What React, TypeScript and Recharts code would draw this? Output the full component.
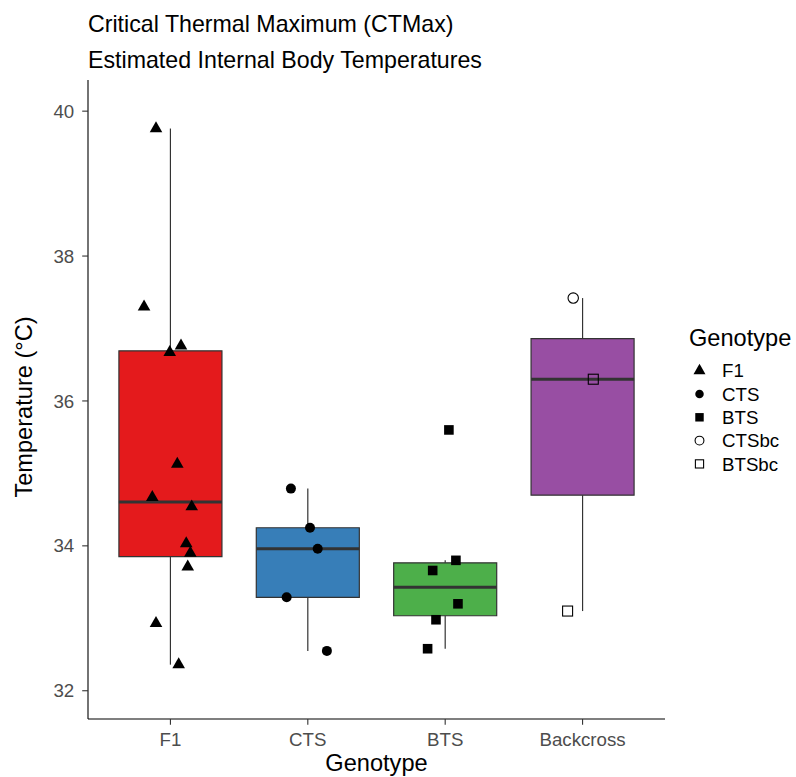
import React from "react"
import { ComposedChart, XAxis, YAxis, Scatter, ReferenceArea, ReferenceLine } from "recharts"

const genotypes = ["F1", "CTS", "BTS", "Backcross"]
const boxColors = ["#E41A1C", "#377EB8", "#4DAF4A", "#984EA3"]

// x = jittered position on the genotype axis (1..4), temp = body temperature in °C
const f1Points = [
  { x: 0.895, temp: 39.76 },
  { x: 0.808, temp: 37.3 },
  { x: 1.077, temp: 36.76 },
  { x: 0.995, temp: 36.67 },
  { x: 1.05, temp: 35.13 },
  { x: 0.868, temp: 34.67 },
  { x: 1.155, temp: 34.54 },
  { x: 1.115, temp: 34.03 },
  { x: 1.145, temp: 33.9 },
  { x: 1.126, temp: 33.71 },
  { x: 0.895, temp: 32.93 },
  { x: 1.06, temp: 32.36 },
]
const ctsPoints = [
  { x: 1.877, temp: 34.79 },
  { x: 2.016, temp: 34.25 },
  { x: 2.072, temp: 33.96 },
  { x: 1.846, temp: 33.29 },
  { x: 2.139, temp: 32.55 },
]
const btsPoints = [
  { x: 3.027, temp: 35.6 },
  { x: 3.078, temp: 33.8 },
  { x: 2.909, temp: 33.66 },
  { x: 3.093, temp: 33.2 },
  { x: 2.933, temp: 32.98 },
  { x: 2.872, temp: 32.58 },
]
const ctsbcPoints = [{ x: 3.932, temp: 37.42 }]
const btsbcPoints = [
  { x: 4.078, temp: 36.3 },
  { x: 3.891, temp: 33.1 },
]

const yTicks = [32, 34, 36, 38, 40]

const groups = [f1Points, ctsPoints, btsPoints, [...ctsbcPoints, ...btsbcPoints]]

const font = "'Liberation Sans', Arial, Helvetica, sans-serif"
const dark = "#333333"

function quantile(sorted: number[], p: number) {
  const h = (sorted.length - 1) * p
  const lo = Math.floor(h)
  const hi = Math.ceil(h)
  return sorted[lo] + (h - lo) * (sorted[hi] - sorted[lo])
}

// Tukey box: quartiles + whiskers reaching the furthest point within 1.5 IQR
function boxStats(points: { temp: number }[]) {
  const v = points.map((p) => p.temp).sort((a, b) => a - b)
  const q1 = quantile(v, 0.25)
  const med = quantile(v, 0.5)
  const q3 = quantile(v, 0.75)
  const iqr = q3 - q1
  const lo = Math.min(...v.filter((t) => t >= q1 - 1.5 * iqr))
  const hi = Math.max(...v.filter((t) => t <= q3 + 1.5 * iqr))
  return { q1, med, q3, lo, hi }
}

const boxes = groups.map(boxStats)

// point glyphs (R pch 17, 16, 15, 1, 0)
const Triangle = ({ cx, cy, s = 1 }: any) => (
  <polygon
    points={`${cx},${cy - 7.3 * s} ${cx + 6.3 * s},${cy + 3.65 * s} ${cx - 6.3 * s},${cy + 3.65 * s}`}
    fill="#000"
  />
)
const Dot = ({ cx, cy, s = 1 }: any) => <circle cx={cx} cy={cy} r={5 * s} fill="#000" />
const Square = ({ cx, cy, s = 1 }: any) => (
  <rect x={cx - 4.8 * s} y={cy - 4.8 * s} width={9.6 * s} height={9.6 * s} fill="#000" />
)
const OpenDot = ({ cx, cy, s = 1 }: any) => (
  <circle cx={cx} cy={cy} r={5.2 * s} fill="none" stroke="#000" strokeWidth={1.1} />
)
const OpenSquare = ({ cx, cy, s = 1 }: any) => (
  <rect x={cx - 5 * s} y={cy - 5 * s} width={10 * s} height={10 * s} fill="none" stroke="#000" strokeWidth={1.1} />
)

const series = [
  { name: "F1", data: f1Points, Shape: Triangle, legendScale: 0.95 },
  { name: "CTS", data: ctsPoints, Shape: Dot, legendScale: 0.85 },
  { name: "BTS", data: btsPoints, Shape: Square, legendScale: 0.88 },
  { name: "CTSbc", data: ctsbcPoints, Shape: OpenDot, legendScale: 0.85 },
  { name: "BTSbc", data: btsbcPoints, Shape: OpenSquare, legendScale: 0.82 },
]

export default function App() {
  return (
    <div style={{ position: "absolute", left: 0, top: 0, width: 796, height: 777, background: "#fff" }}>
      <ComposedChart
        width={796}
        height={777}
        margin={{ top: 80, right: 131, bottom: 0, left: 0 }}
        style={{ fontFamily: font }}
      >
        <XAxis
          type="number"
          dataKey="x"
          domain={[0.4, 4.6]}
          ticks={[1, 2, 3, 4]}
          tickFormatter={(i: number) => genotypes[i - 1]}
          allowDataOverflow
          height={58}
          stroke="#000"
          strokeWidth={1.1}
          tickSize={5.8}
          tickMargin={8}
          tickLine={{ stroke: dark }}
          tick={{ fill: "#4D4D4D", fontSize: 18.7 }}
        />
        <YAxis
          type="number"
          dataKey="temp"
          domain={[31.61, 40.43]}
          ticks={yTicks}
          allowDataOverflow
          width={88}
          stroke="#000"
          strokeWidth={1.1}
          tickSize={5.8}
          tickMargin={8}
          tickLine={{ stroke: dark }}
          tick={{ fill: "#4D4D4D", fontSize: 18.7 }}
        />
        {boxes.map((b, k) => (
          <ReferenceLine
            key={`wu${k}`}
            segment={[{ x: k + 1, y: b.q3 }, { x: k + 1, y: b.hi }]}
            stroke={dark}
            strokeWidth={1.2}
          />
        ))}
        {boxes.map((b, k) => (
          <ReferenceLine
            key={`wl${k}`}
            segment={[{ x: k + 1, y: b.lo }, { x: k + 1, y: b.q1 }]}
            stroke={dark}
            strokeWidth={1.2}
          />
        ))}
        {boxes.map((b, k) => (
          <ReferenceArea
            key={`box${k}`}
            x1={k + 1 - 0.375}
            x2={k + 1 + 0.375}
            y1={b.q1}
            y2={b.q3}
            fill={boxColors[k]}
            fillOpacity={1}
            stroke={dark}
            strokeWidth={1.2}
          />
        ))}
        {boxes.map((b, k) => (
          <ReferenceLine
            key={`med${k}`}
            segment={[{ x: k + 1 - 0.375, y: b.med }, { x: k + 1 + 0.375, y: b.med }]}
            stroke={dark}
            strokeWidth={3}
          />
        ))}
        {series.map((s) => (
          <Scatter
            key={s.name}
            name={s.name}
            data={s.data}
            isAnimationActive={false}
            shape={(p: any) => <s.Shape cx={p.cx} cy={p.cy} />}
          />
        ))}
      </ComposedChart>

      <svg
        width={796}
        height={777}
        style={{ position: "absolute", left: 0, top: 0, pointerEvents: "none", fontFamily: font }}
      >
        <text x={88} y={31.7} fontSize={23.2} fill="#000">
          Critical Thermal Maximum (CTMax)
        </text>
        <text x={88} y={68.3} fontSize={23.2} fill="#000">
          Estimated Internal Body Temperatures
        </text>
        <text x={376.5} y={771} fontSize={23.6} fill="#000" textAnchor="middle">
          Genotype
        </text>
        <text
          x={32}
          y={407}
          fontSize={23.6}
          fill="#000"
          textAnchor="middle"
          transform="rotate(-90 32 407)"
        >
          Temperature (°C)
        </text>

        <text x={689} y={346} fontSize={23.6} fill="#000">
          Genotype
        </text>
        {series.map((s, i) => {
          const cy = 370.7 + i * 23.3
          return (
            <g key={s.name}>
              <s.Shape cx={699.5} cy={cy} s={s.legendScale} />
              <text x={722} y={cy + 6.6} fontSize={18.7} fill="#000">
                {s.name}
              </text>
            </g>
          )
        })}
      </svg>
    </div>
  )
}
